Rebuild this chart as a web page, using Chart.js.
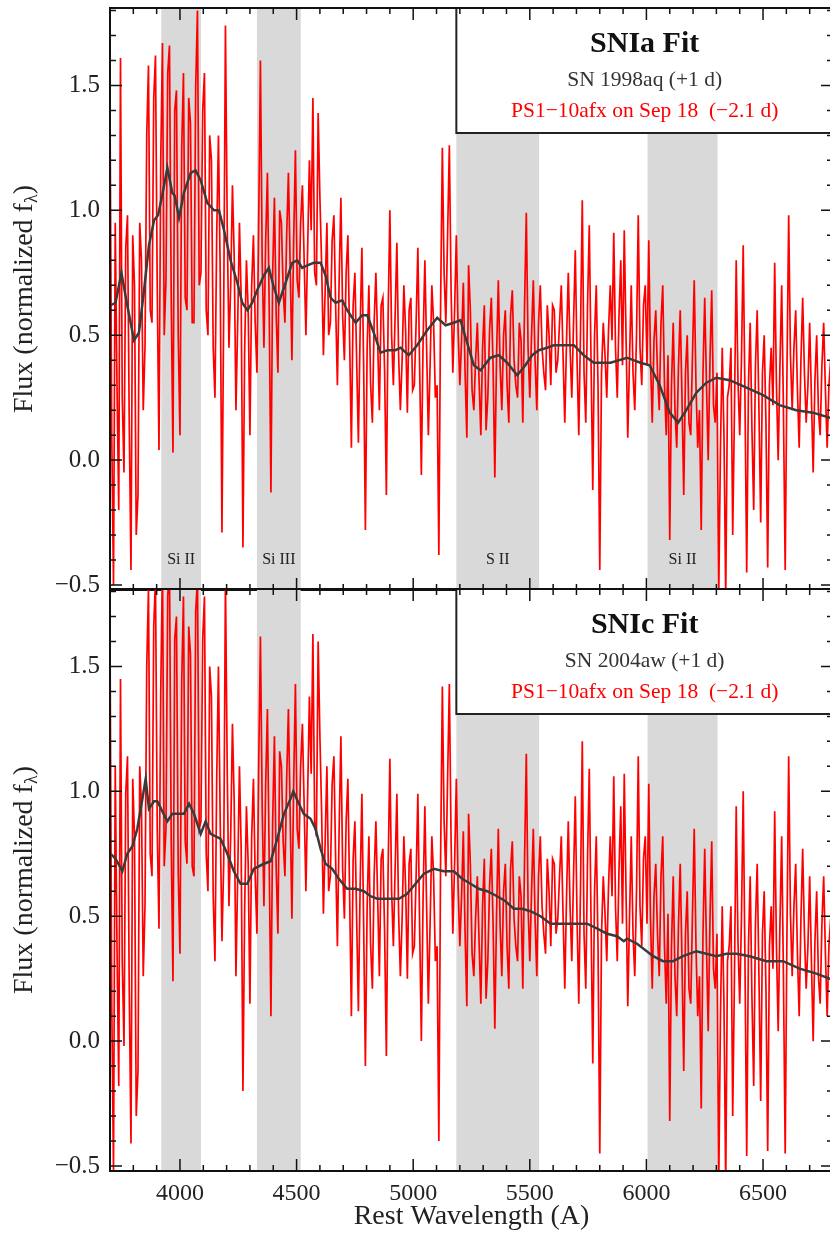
<!DOCTYPE html>
<html>
<head>
<meta charset="utf-8">
<script src="https://cdn.jsdelivr.net/npm/chart.js@4.4.1/dist/chart.umd.min.js"></script>
<style>
  html, body { margin: 0; padding: 0; background: #fff; overflow: hidden; }
  #wrap { position: relative; width: 830px; height: 1239px; overflow: hidden; }
  canvas { position: absolute; left: 0; }
  #c1 { top: 0; }
  #c2 { top: 580px; }
</style>
</head>
<body>
<div id="wrap">
  <canvas id="c1" width="845" height="600"></canvas>
  <canvas id="c2" width="845" height="659"></canvas>
</div>
<script>
// rest wavelength grid of the PS1-10afx spectrum (A)
const waveRed = [
  3700,3707.5,3715,3722.5,3730,3737.5,3745,3752.5,3760,3767.5,3775,3782.5,3790,3797.5,3805,3812.5,3820,3827.5,3835,3842.5,
  3850,3857.5,3865,3872.5,3880,3887.5,3895,3902.5,3910,3917.5,3925,3932.5,3940,3947.5,3955,3962.5,3970,3977.5,3985,3992.5,
  4000,4007.5,4015,4022.5,4030,4037.5,4045,4052.5,4060,4067.5,4075,4082.5,4090,4097.5,4105,4112.5,4120,4127.5,4135,4142.5,
  4150,4157.5,4165,4172.5,4180,4187.5,4195,4202.5,4210,4217.5,4225,4232.5,4240,4247.5,4255,4262.5,4270,4277.5,4285,4292.5,
  4300,4307.5,4315,4322.5,4330,4337.5,4345,4352.5,4360,4367.5,4375,4382.5,4390,4397.5,4405,4412.5,4420,4427.5,4435,4442.5,
  4450,4457.5,4465,4472.5,4480,4487.5,4495,4502.5,4510,4517.5,4525,4532.5,4540,4547.5,4555,4562.5,4570,4577.5,4585,4592.5,
  4600,4607.5,4615,4622.5,4630,4637.5,4645,4652.5,4660,4667.5,4675,4682.5,4690,4697.5,4705,4712.5,4720,4727.5,4735,4742.5,
  4750,4757.5,4765,4772.5,4780,4787.5,4795,4802.5,4810,4817.5,4825,4832.5,4840,4847.5,4855,4862.5,4870,4877.5,4885,4892.5,
  4900,4907.5,4915,4922.5,4930,4937.5,4945,4952.5,4960,4967.5,4975,4982.5,4990,4997.5,5005,5012.5,5020,5027.5,5035,5042.5,
  5050,5057.5,5065,5072.5,5080,5087.5,5095,5102.5,5110,5117.5,5125,5132.5,5140,5147.5,5155,5162.5,5170,5177.5,5185,5192.5,
  5200,5207.5,5215,5222.5,5230,5237.5,5245,5252.5,5260,5267.5,5275,5282.5,5290,5297.5,5305,5312.5,5320,5327.5,5335,5342.5,
  5350,5357.5,5365,5372.5,5380,5387.5,5395,5402.5,5410,5417.5,5425,5432.5,5440,5447.5,5455,5462.5,5470,5477.5,5485,5492.5,
  5500,5507.5,5515,5522.5,5530,5537.5,5545,5552.5,5560,5567.5,5575,5582.5,5590,5597.5,5605,5612.5,5620,5627.5,5635,5642.5,
  5650,5657.5,5665,5672.5,5680,5687.5,5695,5702.5,5710,5717.5,5725,5732.5,5740,5747.5,5755,5762.5,5770,5777.5,5785,5792.5,
  5800,5807.5,5815,5822.5,5830,5837.5,5845,5852.5,5860,5867.5,5875,5882.5,5890,5897.5,5905,5912.5,5920,5927.5,5935,5942.5,
  5950,5957.5,5965,5972.5,5980,5987.5,5995,6002.5,6010,6017.5,6025,6032.5,6040,6047.5,6055,6062.5,6070,6077.5,6085,6092.5,
  6100,6107.5,6115,6122.5,6130,6137.5,6145,6152.5,6160,6167.5,6175,6182.5,6190,6197.5,6205,6212.5,6220,6227.5,6235,6242.5,
  6250,6257.5,6265,6272.5,6280,6287.5,6295,6302.5,6310,6317.5,6325,6332.5,6340,6347.5,6355,6362.5,6370,6377.5,6385,6392.5,
  6400,6407.5,6415,6422.5,6430,6437.5,6445,6452.5,6460,6467.5,6475,6482.5,6490,6497.5,6505,6512.5,6520,6527.5,6535,6542.5,
  6550,6557.5,6565,6572.5,6580,6587.5,6595,6602.5,6610,6617.5,6625,6632.5,6640,6647.5,6655,6662.5,6670,6677.5,6685,6692.5,
  6700,6707.5,6715,6722.5,6730,6737.5,6745,6752.5,6760,6767.5,6775,6782.5,6790,6797.5
];

// PS1-10afx, normalised for the SNIa comparison (top panel)
const fluxRedIa = [
  1.42,0.10,-0.50,0.95,0.30,-0.20,1.61,0.25,-0.05,0.85,0.98,0.15,-0.44,0.90,0.70,-0.30,-0.14,0.95,0.80,0.20,
  0.45,1.30,1.58,0.60,0.55,1.45,1.62,0.70,0.04,1.20,1.67,0.50,0.72,1.55,1.66,0.65,0.03,1.40,1.48,0.50,
  0.10,1.25,1.55,0.65,0.60,1.45,1.35,0.55,0.55,1.50,1.80,0.70,0.75,1.40,1.55,0.60,0.50,1.30,1.20,0.45,
  0.25,0.90,1.30,0.75,-0.29,0.60,1.74,0.95,0.45,0.70,1.10,0.82,0.20,0.55,0.95,0.65,-0.35,0.45,0.80,0.60,
  0.10,0.70,0.90,0.55,0.35,0.95,1.60,0.80,0.45,0.88,1.15,0.62,-0.13,0.75,1.05,0.58,0.35,1.00,0.95,0.68,
  0.55,0.90,1.15,0.78,0.40,0.88,1.24,0.72,0.65,0.95,1.10,0.80,0.50,0.85,1.20,0.92,1.45,0.75,0.70,1.39,
  1.05,0.78,0.42,0.68,0.95,0.50,0.55,0.88,0.98,0.62,0.30,0.72,1.05,0.58,0.40,0.75,0.90,0.48,0.05,0.62,
  0.75,0.40,0.07,0.52,0.85,0.38,-0.28,0.45,0.70,0.30,0.15,0.55,0.75,0.48,0.20,0.62,0.65,0.35,-0.14,0.58,
  1.00,0.50,0.30,0.58,0.87,0.42,0.20,0.40,0.70,0.52,0.19,0.60,0.65,0.28,0.30,0.55,0.85,0.38,-0.06,0.48,
  0.80,0.45,0.10,0.38,0.70,0.55,0.25,0.30,-0.38,0.62,1.25,0.75,0.55,0.90,1.26,0.68,0.35,0.60,0.90,0.52,
  0.30,0.48,0.71,0.35,0.09,0.78,0.60,0.28,0.20,0.40,0.55,0.32,0.10,0.45,0.62,0.12,0.25,0.52,0.65,0.38,
  -0.07,0.42,0.72,0.38,0.20,0.50,0.60,0.30,0.15,0.58,0.68,0.40,0.30,0.25,0.55,0.48,0.15,0.62,0.99,0.45,
  0.25,0.50,0.72,0.40,0.20,0.55,0.70,0.45,0.35,0.28,0.62,0.50,0.30,0.62,0.60,0.35,0.40,0.55,0.70,0.42,
  0.15,0.48,0.75,0.45,0.25,0.55,0.84,0.40,0.10,0.52,1.04,0.35,0.15,0.62,0.94,0.40,-0.12,0.50,0.70,0.30,
  -0.44,0.35,0.55,0.42,0.25,0.52,0.70,0.48,0.91,0.45,0.25,0.58,0.80,0.38,0.92,0.50,0.09,0.40,0.70,0.35,
  0.20,0.50,0.98,0.45,0.30,0.62,0.70,0.38,0.88,0.40,0.15,0.48,0.60,0.35,0.20,0.55,0.70,0.30,0.10,0.42,
  -0.32,0.30,0.55,0.20,0.05,0.38,0.60,0.25,-0.14,0.35,0.50,0.15,0.10,0.42,0.72,0.30,0.05,0.20,-0.28,0.35,
  0.65,0.30,0.00,0.40,0.68,0.22,0.15,0.35,-0.55,0.05,0.45,0.10,-0.55,0.25,0.30,0.45,-0.30,0.20,0.80,0.32,
  0.10,0.40,0.86,0.25,-0.45,0.30,0.55,0.12,-0.20,0.38,0.60,0.20,-0.25,0.35,0.50,0.15,-0.43,0.30,0.45,0.22,
  0.79,0.30,0.00,0.38,0.70,0.20,-0.44,0.35,0.98,0.42,0.20,0.45,0.60,0.28,0.05,0.40,0.65,0.35,0.15,0.30,
  0.55,0.25,-0.05,0.32,0.50,0.20,0.10,0.38,0.55,0.28,0.05,0.30,0.40,0.22
];

// same spectrum, normalised for the SNIc comparison (bottom panel)
const fluxRedIc = [
  1.63,0.15,-0.52,1.10,0.38,-0.18,1.45,0.32,-0.02,0.99,1.14,0.21,-0.41,1.05,0.82,-0.30,-0.12,1.10,0.94,0.26,
  0.54,1.50,1.81,0.75,0.66,1.66,1.85,0.85,0.45,1.40,1.91,0.70,0.85,1.78,1.90,0.80,0.24,1.61,1.70,0.68,
  0.35,1.44,1.78,0.80,0.71,1.66,1.55,0.70,0.66,1.72,1.85,0.85,0.88,1.61,1.78,0.75,0.60,1.50,1.38,0.58,
  0.32,1.05,1.50,0.88,0.40,0.71,1.85,1.10,0.54,0.82,1.27,0.96,0.26,0.66,1.10,0.77,-0.20,0.54,0.94,0.71,
  0.15,0.82,1.05,0.66,0.43,1.10,1.62,0.94,0.54,1.03,1.33,0.73,0.10,0.88,1.22,0.69,0.43,1.16,1.10,0.80,
  0.66,1.05,1.33,0.91,0.49,1.03,1.43,0.85,0.77,1.10,1.27,0.94,0.60,0.99,1.38,1.07,1.63,0.88,0.82,1.60,
  1.22,0.91,0.51,0.80,1.10,0.60,0.66,1.03,1.14,0.73,0.38,0.85,1.22,0.69,0.49,0.88,1.05,0.58,0.10,0.73,
  0.88,0.49,0.12,0.62,0.99,0.47,-0.10,0.54,0.82,0.38,0.21,0.66,0.88,0.58,0.26,0.73,0.77,0.43,-0.06,0.69,
  1.13,0.60,0.38,0.69,0.99,0.51,0.26,0.49,0.82,0.62,0.25,0.71,0.77,0.35,0.38,0.66,0.99,0.47,0.00,0.58,
  0.94,0.54,0.15,0.47,0.82,0.66,0.32,0.38,-0.40,0.73,1.42,0.88,0.66,1.05,1.43,0.80,0.43,0.71,1.05,0.62,
  0.38,0.58,0.84,0.43,0.14,0.91,0.71,0.35,0.26,0.49,0.66,0.40,0.15,0.54,0.73,0.17,0.32,0.62,0.77,0.47,
  0.05,0.51,0.85,0.47,0.26,0.60,0.71,0.38,0.21,0.69,0.80,0.49,0.38,0.32,0.66,0.58,0.21,0.73,1.15,0.54,
  0.32,0.60,0.85,0.49,0.26,0.66,0.82,0.54,0.43,0.35,0.73,0.60,0.38,0.73,0.71,0.43,0.49,0.66,0.82,0.51,
  0.21,0.58,0.88,0.54,0.32,0.66,0.98,0.49,0.15,0.62,1.20,0.43,0.21,0.73,1.09,0.49,-0.09,0.60,0.82,0.38,
  -0.45,0.43,0.66,0.51,0.32,0.62,0.82,0.58,1.06,0.54,0.32,0.69,0.94,0.47,1.07,0.60,0.14,0.49,0.82,0.43,
  0.26,0.60,1.14,0.54,0.38,0.73,0.82,0.47,1.03,0.49,0.21,0.58,0.71,0.43,0.26,0.66,0.82,0.38,0.15,0.51,
  -0.32,0.38,0.66,0.26,0.10,0.47,0.71,0.32,-0.12,0.43,0.60,0.21,0.15,0.51,0.85,0.38,0.10,0.26,-0.27,0.43,
  0.77,0.38,0.04,0.49,0.80,0.29,0.21,0.43,-0.58,0.10,0.54,0.15,-0.58,0.32,0.38,0.54,-0.30,0.26,0.94,0.40,
  0.15,0.49,1.00,0.32,-0.46,0.38,0.66,0.17,-0.18,0.47,0.71,0.26,-0.24,0.43,0.60,0.21,-0.44,0.38,0.54,0.29,
  0.92,0.38,0.04,0.47,0.82,0.26,-0.45,0.43,1.14,0.51,0.26,0.54,0.71,0.35,0.10,0.49,0.77,0.43,0.21,0.38,
  0.66,0.32,0.00,0.40,0.60,0.26,0.15,0.47,0.66,0.35,0.10,0.38,0.49,0.29
];

// SN 1998aq template (+1 d)
const waveFitIa = [3703,3724,3749,3774,3803,3824,3846,3867,3889,3906,3924,3946,3967,3977,3996,4017,4046,4067,4089,4117,4146,4167,4189,4217,4246,4267,4289,4310,4331,4360,4381,4403,4424,4453,4481,4503,4524,4546,4574,4603,4624,4646,4667,4696,4717,4753,4781,4803,4831,4860,4889,4924,4946,4981,5017,5060,5103,5139,5174,5203,5231,5260,5289,5331,5367,5403,5446,5481,5510,5539,5574,5603,5689,5731,5774,5846,5917,5974,6014,6057,6100,6136,6171,6214,6257,6300,6357,6429,6500,6571,6643,6714,6786,6800];
const fluxFitIa = [0.62,0.63,0.75,0.62,0.48,0.51,0.68,0.86,0.96,0.98,1.06,1.17,1.07,1.06,0.97,1.07,1.15,1.16,1.12,1.03,1.00,1.00,0.92,0.80,0.71,0.63,0.60,0.63,0.68,0.74,0.77,0.69,0.63,0.71,0.79,0.80,0.77,0.78,0.79,0.79,0.74,0.65,0.63,0.64,0.60,0.55,0.58,0.58,0.51,0.43,0.44,0.44,0.45,0.42,0.46,0.52,0.57,0.54,0.55,0.56,0.47,0.38,0.36,0.41,0.42,0.39,0.34,0.38,0.42,0.44,0.45,0.46,0.46,0.42,0.39,0.39,0.41,0.39,0.38,0.30,0.19,0.15,0.20,0.27,0.31,0.33,0.32,0.29,0.26,0.22,0.20,0.19,0.17,0.17];

// SN 2004aw template (+1 d)
const waveFitIc = [3703,3724,3753,3774,3796,3817,3839,3853,3867,3889,3903,3924,3946,3967,3996,4017,4039,4060,4089,4110,4131,4153,4174,4203,4231,4260,4289,4317,4360,4389,4417,4446,4474,4486,4510,4531,4560,4581,4603,4624,4653,4681,4717,4753,4789,4817,4846,4889,4939,4974,5010,5046,5089,5131,5174,5210,5246,5281,5317,5360,5396,5431,5467,5503,5546,5589,5631,5689,5746,5789,5831,5874,5903,5917,5960,6029,6071,6114,6157,6214,6257,6300,6343,6386,6443,6514,6586,6657,6729,6786,6800];
const fluxFitIc = [0.75,0.73,0.68,0.75,0.78,0.85,0.97,1.05,0.93,0.96,0.96,0.92,0.88,0.91,0.91,0.91,0.95,0.91,0.83,0.88,0.83,0.82,0.81,0.75,0.68,0.63,0.63,0.69,0.71,0.72,0.81,0.91,0.97,1.00,0.95,0.91,0.89,0.85,0.77,0.71,0.69,0.65,0.61,0.61,0.60,0.58,0.57,0.57,0.57,0.59,0.63,0.67,0.69,0.68,0.68,0.65,0.63,0.61,0.60,0.58,0.56,0.53,0.53,0.52,0.50,0.47,0.47,0.47,0.47,0.45,0.43,0.42,0.40,0.41,0.39,0.34,0.32,0.32,0.34,0.36,0.35,0.34,0.35,0.35,0.34,0.32,0.32,0.29,0.27,0.25,0.25];

// line regions (shaded)
const bandStart = [3920, 4330, 5185, 6005];
const bandEnd = [4090, 4518, 5540, 6305];
const bandNames = ['Si II', 'Si III', 'S II', 'Si II'];

const xTicks = [4000, 4500, 5000, 5500, 6000, 6500];
const yTicks = [-0.5, 0.0, 0.5, 1.0, 1.5];

const SERIF = '"Liberation Serif", "DejaVu Serif", serif';

function pair(xs, ys) {
    return xs.map((v, i) => ({ x: v, y: ys[i] }));
}

function fmtY(v) {
    return (v < 0 ? '\u2212' : '') + Math.abs(v).toFixed(1);
}

// bands, frame, inward ticks, annotations and the legend box
function overlay(o) {
    return {
        id: 'overlay',
        beforeDatasetsDraw(chart) {
            const { ctx, chartArea: a, scales: { x } } = chart;
            ctx.save();
            ctx.fillStyle = '#d9d9d9';
            bandStart.forEach((b, i) => {
                const x0 = x.getPixelForValue(b), x1 = x.getPixelForValue(bandEnd[i]);
                ctx.fillRect(x0, a.top, x1 - x0, a.bottom - a.top);
            });
            ctx.restore();
        },
        afterDatasetsDraw(chart) {
            const { ctx, chartArea: a, scales: { x, y } } = chart;
            ctx.save();

            // line ids under the bands
            if (o.bandLabels) {
                ctx.fillStyle = '#222';
                ctx.font = '16px ' + SERIF;
                ctx.textAlign = 'center';
                ctx.textBaseline = 'middle';
                bandNames.forEach((n, i) => {
                    ctx.fillText(n, x.getPixelForValue((bandStart[i] + bandEnd[i]) / 2), a.bottom - 30);
                });
            }

            // legend box
            const bx = x.getPixelForValue(5185);
            ctx.fillStyle = '#fff';
            ctx.fillRect(bx, a.top, a.right - bx, 125);
            ctx.strokeStyle = '#222';
            ctx.lineWidth = 2;
            ctx.strokeRect(bx, a.top, a.right - bx, 125);
            const cx = (bx + a.right) / 2;
            ctx.textAlign = 'center';
            ctx.textBaseline = 'middle';
            ctx.fillStyle = '#111';
            ctx.font = 'bold 30px ' + SERIF;
            ctx.fillText(o.title, cx, a.top + 36);
            ctx.fillStyle = '#333';
            ctx.font = '21.5px ' + SERIF;
            ctx.fillText(o.template, cx, a.top + 72);
            ctx.fillStyle = '#ff0000';
            ctx.fillText('PS1\u221210afx on Sep 18  (\u22122.1 d)', cx, a.top + 103);

            // frame
            ctx.strokeStyle = '#111';
            ctx.lineWidth = 2;
            ctx.strokeRect(a.left, a.top, a.right - a.left, a.bottom - a.top);

            // inward ticks on all sides
            ctx.lineWidth = 1.5;
            ctx.beginPath();
            for (let w = 3700; w <= 6800; w += 100) {
                const px = x.getPixelForValue(w);
                const len = w % 500 === 0 ? 12 : 6;
                ctx.moveTo(px, a.bottom); ctx.lineTo(px, a.bottom - len);
                ctx.moveTo(px, a.top); ctx.lineTo(px, a.top + len);
            }
            for (let k = -5; k <= 18; k++) {
                const py = y.getPixelForValue(k / 10);
                const len = k % 5 === 0 ? 12 : 6;
                ctx.moveTo(a.left, py); ctx.lineTo(a.left + len, py);
                ctx.moveTo(a.right, py); ctx.lineTo(a.right - len, py);
            }
            ctx.stroke();

            // y title with subscript lambda
            ctx.translate(25, (a.top + a.bottom) / 2);
            ctx.rotate(-Math.PI / 2);
            ctx.fillStyle = '#222';
            ctx.textAlign = 'left';
            ctx.textBaseline = 'middle';
            const big = '28px ' + SERIF, small = '18px ' + SERIF;
            const p1 = 'Flux (normalized f', p2 = '\u03bb', p3 = ')';
            ctx.font = big; const w1 = ctx.measureText(p1).width, w3 = ctx.measureText(p3).width;
            ctx.font = small; const w2 = ctx.measureText(p2).width;
            let sx = -(w1 + w2 + w3) / 2;
            ctx.font = big; ctx.fillText(p1, sx, 0); sx += w1;
            ctx.font = small; ctx.fillText(p2, sx, 7); sx += w2;
            ctx.font = big; ctx.fillText(p3, sx, 0);
            ctx.restore();

            if (o.xTitle) {
                ctx.save();
                ctx.fillStyle = '#222';
                ctx.font = '28px ' + SERIF;
                ctx.textAlign = 'center';
                ctx.textBaseline = 'middle';
                ctx.fillText('Rest Wavelength (A)', (a.left + a.right) / 2, a.bottom + 46);
                ctx.restore();
            }
        }
    };
}

function makePanel(id, redFlux, fitWave, fitFlux, o) {
    return new Chart(document.getElementById(id), {
        type: 'line',
        data: {
            datasets: [
                { data: pair(fitWave, fitFlux), borderColor: '#3a3a3a', borderWidth: 2.5, pointRadius: 0, tension: 0, order: 0 },
                { data: pair(waveRed, redFlux), borderColor: '#ff0000', borderWidth: 1.7, pointRadius: 0, tension: 0, order: 1 }
            ]
        },
        options: {
            responsive: false,
            animation: false,
            devicePixelRatio: 1,
            layout: { padding: { left: 0, right: 12, top: o.top, bottom: 0 } },
            plugins: { legend: { display: false }, tooltip: { enabled: false } },
            scales: {
                x: {
                    type: 'linear', min: 3700, max: 6800,
                    grid: { display: false, drawTicks: false }, border: { display: false },
                    afterBuildTicks: s => { s.ticks = xTicks.map(v => ({ value: v })); },
                    afterFit: s => { s.height = o.xHeight; s.paddingLeft = 0; s.paddingRight = 0; },
                    ticks: { display: o.xLabels, padding: 8, maxRotation: 0, autoSkip: false, color: '#222', font: { family: SERIF, size: 24 }, callback: v => String(v) }
                },
                y: {
                    min: -0.52, max: 1.81,
                    grid: { display: false, drawTicks: false }, border: { display: false },
                    afterBuildTicks: s => { s.ticks = yTicks.map(v => ({ value: v })); },
                    afterFit: s => { s.width = 110; s.paddingTop = 0; s.paddingBottom = 0; },
                    ticks: { padding: 10, color: '#222', font: { family: SERIF, size: 25 }, callback: v => fmtY(v) }
                }
            }
        },
        plugins: [overlay(o)]
    });
}

makePanel('c1', fluxRedIa, waveFitIa, fluxFitIa, {
    top: 8, xHeight: 10, xLabels: false, xTitle: false, bandLabels: true,
    title: 'SNIa Fit', template: 'SN 1998aq (+1 d)'
});
makePanel('c2', fluxRedIc, waveFitIc, fluxFitIc, {
    top: 9, xHeight: 68, xLabels: true, xTitle: true, bandLabels: false,
    title: 'SNIc Fit', template: 'SN 2004aw (+1 d)'
});
</script>
</body>
</html>
